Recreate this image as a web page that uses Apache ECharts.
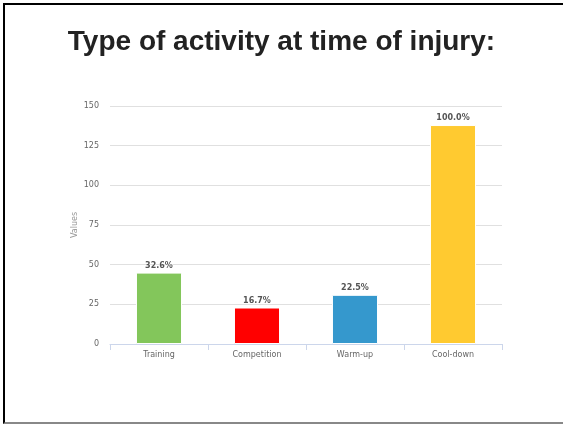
<!DOCTYPE html>
<html>
<head>
<meta charset="utf-8">
<script src="https://cdn.jsdelivr.net/npm/echarts@6/dist/echarts.min.js"></script>
<style>
  html, body { margin: 0; padding: 0; background: #fff; }
  #frame {
    position: absolute; left: 3px; top: 3px; width: 560px; height: 421px;
    border-left: 2px solid #000; border-top: 2px solid #000; border-bottom: 2px solid #888;
    box-sizing: border-box;
  }
  #chart { position: absolute; left: 0; top: 0; width: 563px; height: 426px; }
</style>
</head>
<body>
<div id="frame"></div>
<div id="chart"></div>
<script>
// Injury counts per activity type
const categories = ['Training', 'Competition', 'Warm-up', 'Cool-down'];
const counts = [45, 23, 31, 138];
const barColors = ['#83c65b', '#ff0000', '#3598cd', '#ffca30'];
const yTicks = [0, 25, 50, 75, 100, 125, 150];

const maxCount = Math.max(...counts);

const chart = echarts.init(document.getElementById('chart'), null, { renderer: 'canvas' });
chart.setOption({
  animation: false,
  title: {
    text: 'Type of activity at time of injury:',
    left: 'center',
    top: 23,
    textStyle: { fontFamily: 'Liberation Sans, Arial, sans-serif', fontSize: 28, fontWeight: 'bold', color: '#222' }
  },
  grid: { left: 110, right: 61, top: 106, bottom: 82 },
  xAxis: {
    type: 'category',
    data: categories,
    axisLine: { lineStyle: { color: '#ccd6eb', width: 1 } },
    axisTick: { show: true, length: 6, lineStyle: { color: '#ccd6eb' } },
    axisLabel: { color: '#666', fontSize: 8, fontFamily: 'DejaVu Sans, sans-serif', margin: 7 }
  },
  yAxis: {
    type: 'value',
    min: yTicks[0],
    max: yTicks[yTicks.length - 1],
    interval: 25,
    name: 'Values',
    nameLocation: 'middle',
    nameGap: 31,
    nameMoveOverlap: false,
    nameTextStyle: { color: '#999', fontSize: 8, fontFamily: 'DejaVu Sans, sans-serif' },
    axisLine: { show: false },
    axisTick: { show: false },
    splitLine: { lineStyle: { color: '#e0e0e0', width: 1 } },
    axisLabel: { color: '#666', fontSize: 8, fontFamily: 'DejaVu Sans, sans-serif', margin: 11 }
  },
  series: [{
    type: 'bar',
    barWidth: '47%',
    data: counts.map((v, i) => ({ value: v, itemStyle: { color: barColors[i] } })),
    itemStyle: { borderColor: '#fff', borderWidth: 1 },
    label: {
      show: true,
      position: 'top',
      distance: 3,
      formatter: p => (p.value / maxCount * 100).toFixed(1) + '%',
      color: '#555',
      fontSize: 8,
      fontWeight: 'bold',
      fontFamily: 'DejaVu Sans, sans-serif',
      textBorderColor: '#fff',
      textBorderWidth: 1
    }
  }]
});
</script>
</body>
</html>
